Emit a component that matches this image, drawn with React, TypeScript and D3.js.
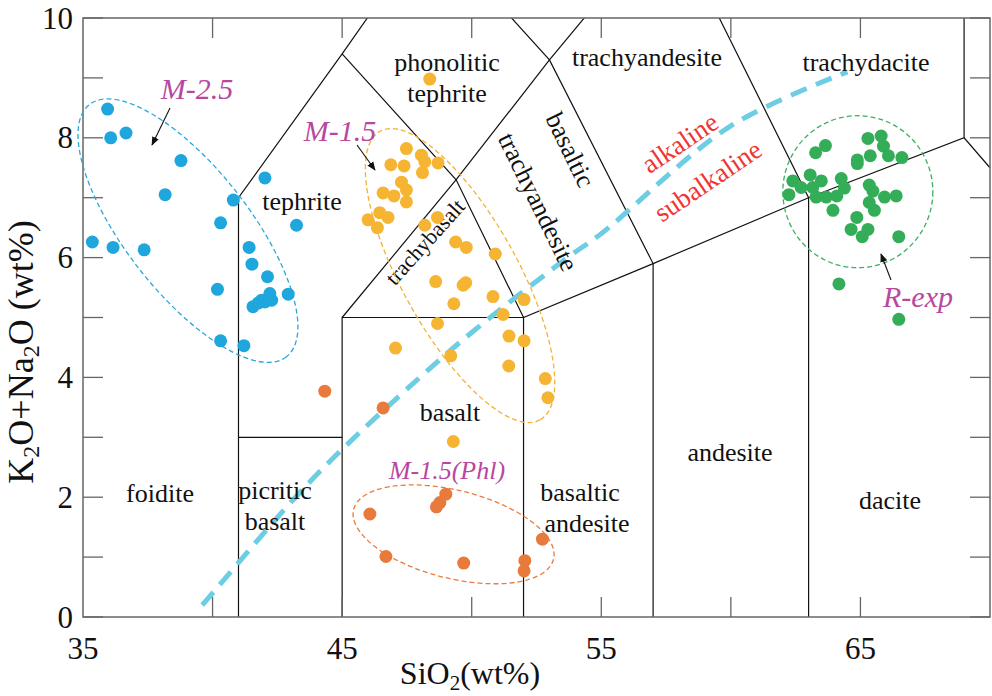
import React, { useEffect, useRef } from 'react';
import * as d3 from 'd3';

// sample groups, [SiO2, K2O+Na2O]
const m25: [number, number][] = [
  [35.95, 8.48], [36.07, 8.0], [36.66, 8.08], [38.78, 7.62], [42.02, 7.33],
  [38.17, 7.05], [40.8, 6.96], [40.31, 6.58], [43.24, 6.54], [35.36, 6.26],
  [36.16, 6.17], [37.36, 6.13], [41.41, 6.17], [41.52, 5.89], [42.12, 5.68],
  [40.19, 5.47], [42.92, 5.39], [41.56, 5.18], [41.89, 5.29], [42.21, 5.4],
  [42.02, 5.26], [41.76, 5.24], [42.28, 5.29], [40.31, 4.61], [41.21, 4.53],
];

const m15: [number, number][] = [
  [47.48, 7.82], [48.06, 7.71], [48.19, 7.6], [48.7, 7.58], [46.88, 7.55],
  [47.39, 7.53], [48.1, 7.42], [47.29, 7.26], [47.48, 7.13], [46.58, 7.08],
  [47.0, 7.03], [47.48, 6.93], [46.45, 6.75], [46.77, 6.67], [46.0, 6.63],
  [46.36, 6.5], [48.19, 6.54], [48.68, 6.67], [49.38, 6.26], [49.79, 6.17],
  [50.91, 6.06], [48.61, 5.6], [49.77, 5.58], [49.67, 5.54], [50.82, 5.35],
  [52.02, 5.3], [49.31, 5.23], [51.21, 5.05], [48.68, 4.9], [51.44, 4.69],
  [52.02, 4.61], [47.06, 4.49], [49.19, 4.36], [51.43, 4.19], [52.84, 3.98],
  [52.94, 3.66], [48.38, 8.98], [49.29, 2.93],
];

const m15phl: [number, number][] = [
  [44.33, 3.77], [46.58, 3.49], [49.0, 2.05], [48.77, 1.91], [48.64, 1.84],
  [46.07, 1.72], [52.73, 1.3], [46.69, 1.01], [49.69, 0.9], [52.05, 0.94],
  [52.02, 0.77],
];

const rexp: [number, number][] = [
  [65.29, 7.99], [65.8, 8.03], [65.89, 7.86], [63.65, 7.87], [63.27, 7.75],
  [65.38, 7.7], [66.08, 7.7], [66.6, 7.67], [64.88, 7.63], [64.88, 7.57],
  [63.06, 7.38], [62.39, 7.28], [63.49, 7.28], [64.26, 7.32], [62.71, 7.17],
  [63.16, 7.17], [64.38, 7.16], [65.34, 7.21], [62.24, 7.05], [63.29, 7.01],
  [63.68, 7.01], [64.09, 7.03], [65.48, 7.11], [65.93, 7.01], [66.38, 7.03],
  [65.34, 6.92], [65.54, 6.79], [63.94, 6.79], [64.86, 6.67], [64.64, 6.47],
  [65.29, 6.47], [65.07, 6.35], [66.48, 6.35], [64.17, 5.56], [66.48, 4.97],
];

// TAS field boundaries
const fieldLines: [number, number][][] = [
  [[41, 0], [41, 7], [45, 9.4], [48.4, 11.5]],
  [[41, 3], [45, 3]],
  [[45, 0], [45, 5], [52, 5], [52, 0]],
  [[45, 5], [49.4, 7.3], [53, 9.3], [57.6, 11.7]],
  [[45, 9.4], [49.4, 7.3], [52, 5], [57, 5.9], [63, 7], [69, 8], [70, 7.5]],
  [[48.4, 11.5], [53, 9.3], [57, 5.9], [57, 0]],
  [[52.5, 14], [57.6, 11.7], [63, 7], [63, 0]],
  [[69, 8], [69, 12]],
];

// alkaline / subalkaline divide
const divide: [number, number][] = [
  [39.6, 0.2], [40, 0.4], [43.2, 2], [45, 2.8], [48, 4], [50, 4.75],
  [53.7, 6], [55, 6.4], [60, 8.2], [64.5, 9.1],
];

const xTickLabels = [35, 45, 55, 65];
const yTickLabels = [0, 2, 4, 6, 8, 10];

const groups = [
  { data: m25, color: '#1fa7dd' },
  { data: m15, color: '#f6b433' },
  { data: m15phl, color: '#e87a3c' },
  { data: rexp, color: '#34ad58' },
];

const App = () => {
  const ref = useRef<SVGSVGElement>(null);

  useEffect(() => {
    const svg = d3.select(ref.current);
    svg.selectAll('*').remove();

    const x = d3.scaleLinear().domain([35, 70]).range([83, 990]);
    const y = d3.scaleLinear().domain([0, 10]).range([617, 18]);

    svg.append('defs').append('clipPath').attr('id', 'plot')
      .append('rect')
      .attr('x', x(35)).attr('y', y(10))
      .attr('width', x(70) - x(35)).attr('height', y(0) - y(10));

    const plot = svg.append('g').attr('clip-path', 'url(#plot)');

    // ticks inside the frame
    const tickG = svg.append('g').attr('stroke', '#666').attr('stroke-width', 1.3);
    d3.range(0, 11).forEach(v => {
      tickG.append('line').attr('x1', x(35)).attr('x2', x(35) + 20).attr('y1', y(v)).attr('y2', y(v));
      tickG.append('line').attr('x1', x(70)).attr('x2', x(70) - 20).attr('y1', y(v)).attr('y2', y(v));
    });
    d3.range(40, 70, 5).forEach(v => {
      tickG.append('line').attr('x1', x(v)).attr('x2', x(v)).attr('y1', y(0)).attr('y2', y(0) - 20);
      tickG.append('line').attr('x1', x(v)).attr('x2', x(v)).attr('y1', y(10)).attr('y2', y(10) + 20);
    });

    const line = d3.line<[number, number]>().x(d => x(d[0])).y(d => y(d[1]));
    plot.selectAll('path.field')
      .data(fieldLines)
      .join('path')
      .attr('class', 'field')
      .attr('d', d => line(d))
      .attr('fill', 'none')
      .attr('stroke', '#111')
      .attr('stroke-width', 1.2);

    plot.append('path')
      .attr('d', d3.line<[number, number]>().x(d => x(d[0])).y(d => y(d[1])).curve(d3.curveCatmullRom)(divide))
      .attr('fill', 'none')
      .attr('stroke', '#6dcde3')
      .attr('stroke-width', 5)
      .attr('stroke-dasharray', '17,10');

    // frame
    svg.append('rect')
      .attr('x', x(35)).attr('y', y(10))
      .attr('width', x(70) - x(35)).attr('height', y(0) - y(10))
      .attr('fill', 'none').attr('stroke', '#666').attr('stroke-width', 1.5);

    // everything written below inherits the serif face from this group
    const txt = svg.append('g');

    // field names
    const fields = [
      { t: 'foidite', p: [160, 493], r: 0 },
      { t: 'picritic', p: [275, 490], r: 0 },
      { t: 'basalt', p: [275, 521], r: 0 },
      { t: 'tephrite', p: [302, 201], r: 0 },
      { t: 'phonolitic', p: [447, 62], r: 0 },
      { t: 'tephrite', p: [447, 93], r: 0 },
      { t: 'trachyandesite', p: [647, 57], r: 0 },
      { t: 'trachydacite', p: [866, 62], r: 0 },
      { t: 'basalt', p: [450, 412], r: 0 },
      { t: 'basaltic', p: [580, 492], r: 0 },
      { t: 'andesite', p: [587, 523], r: 0 },
      { t: 'andesite', p: [730, 452], r: 0 },
      { t: 'dacite', p: [890, 500], r: 0 },
      { t: 'basaltic', p: [570, 150], r: 64 },
      { t: 'trachyandesite', p: [538, 202], r: 64 },
    ];
    txt.append('g').selectAll('text')
      .data(fields)
      .join('text')
      .attr('transform', d => `translate(${d.p[0]},${d.p[1]}) rotate(${d.r})`)
      .attr('text-anchor', 'middle')
      .attr('dominant-baseline', 'central')
      .attr('font-size', 26)
      .attr('fill', '#111')
      .text(d => d.t);

    txt.append('text')
      .attr('transform', 'translate(425,242) rotate(-48)')
      .attr('text-anchor', 'middle').attr('dominant-baseline', 'central')
      .attr('font-size', 22).attr('fill', '#111')
      .text('trachybasalt');

    [{ t: 'alkaline', p: [680, 143] }, { t: 'subalkaline', p: [708, 181] }].forEach(d => {
      txt.append('text')
        .attr('transform', `translate(${d.p[0]},${d.p[1]}) rotate(-34)`)
        .attr('text-anchor', 'middle').attr('dominant-baseline', 'central')
        .attr('font-size', 27).attr('fill', '#f03535')
        .text(d.t);
    });

    // group outlines
    const rings = [
      { c: [39.05, 6.45], rx: 160, ry: 62, a: 52, color: '#2aa8d8' },
      { c: [49.55, 5.7], rx: 165, ry: 58, a: 61, color: '#f3b235' },
      { c: [49.3, 1.38], rx: 103, ry: 44, a: 14, color: '#ea7b3e' },
      { c: [64.9, 7.1], rx: 75, ry: 76, a: 0, color: '#3cb060' },
    ];
    svg.append('g').selectAll('ellipse')
      .data(rings)
      .join('ellipse')
      .attr('transform', d => `translate(${x(d.c[0])},${y(d.c[1])}) rotate(${d.a})`)
      .attr('rx', d => d.rx).attr('ry', d => d.ry)
      .attr('fill', 'none')
      .attr('stroke', d => d.color)
      .attr('stroke-width', 1.3)
      .attr('stroke-dasharray', '5,3');

    groups.forEach(g => {
      svg.append('g').selectAll('circle')
        .data(g.data)
        .join('circle')
        .attr('cx', d => x(d[0]))
        .attr('cy', d => y(d[1]))
        .attr('r', 6.5)
        .attr('fill', g.color);
    });

    // group names and arrows
    const magenta = '#b8489f';
    const names = [
      { t: 'M-2.5', p: [197, 88], s: 30 },
      { t: 'M-1.5', p: [340, 130], s: 30 },
      { t: 'M-1.5(Phl)', p: [447, 470], s: 26 },
      { t: 'R-exp', p: [918, 296], s: 30 },
    ];
    svg.append('g')
      .style('font-family', 'Liberation Serif, Tinos, Times New Roman, Times, Noto Serif, DejaVu Serif, serif')
      .selectAll('text')
      .data(names)
      .join('text')
      .attr('x', d => d.p[0]).attr('y', d => d.p[1])
      .attr('text-anchor', 'middle').attr('dominant-baseline', 'central')
      .attr('font-style', 'italic')
      .attr('font-size', d => d.s).attr('fill', magenta)
      .text(d => d.t);

    const marker = svg.select('defs').append('marker')
      .attr('id', 'arrow').attr('viewBox', '0 0 10 10')
      .attr('refX', 9).attr('refY', 5)
      .attr('markerWidth', 9).attr('markerHeight', 9)
      .attr('markerUnits', 'userSpaceOnUse')
      .attr('orient', 'auto');
    marker.append('path').attr('d', 'M0,1L10,5L0,9Z').attr('fill', '#111');

    const arrows = [
      [170, 108, 152, 145],
      [357, 145, 375, 170],
      [891, 280, 881, 254],
    ];
    svg.append('g').selectAll('line')
      .data(arrows)
      .join('line')
      .attr('x1', d => d[0]).attr('y1', d => d[1])
      .attr('x2', d => d[2]).attr('y2', d => d[3])
      .attr('stroke', '#111').attr('stroke-width', 1.1)
      .attr('marker-end', 'url(#arrow)');

    // tick labels
    txt.append('g').selectAll('text')
      .data(yTickLabels)
      .join('text')
      .attr('x', 73).attr('y', d => y(d))
      .attr('text-anchor', 'end').attr('dominant-baseline', 'central')
      .attr('font-size', 31).attr('fill', '#111')
      .text(d => d);

    txt.append('g').selectAll('text')
      .data(xTickLabels)
      .join('text')
      .attr('x', d => x(d)).attr('y', 648)
      .attr('text-anchor', 'middle').attr('dominant-baseline', 'central')
      .attr('font-size', 31).attr('fill', '#111')
      .text(d => d);

    // axis titles
    const xt = txt.append('text')
      .attr('x', 470).attr('y', 684)
      .attr('text-anchor', 'middle')
      .attr('font-size', 32).attr('fill', '#111');
    xt.append('tspan').text('SiO');
    xt.append('tspan').attr('font-size', 21).attr('dy', 6).text('2');
    xt.append('tspan').attr('dy', -6).text('(wt%)');

    const yt = txt.append('text')
      .attr('transform', 'translate(33,352) rotate(-90)')
      .attr('text-anchor', 'middle')
      .attr('font-size', 36).attr('fill', '#111');
    yt.append('tspan').text('K');
    yt.append('tspan').attr('font-size', 24).attr('dy', 6).text('2');
    yt.append('tspan').attr('dy', -6).text('O+Na');
    yt.append('tspan').attr('font-size', 24).attr('dy', 6).text('2');
    yt.append('tspan').attr('dy', -6).text('O (wt%)');

    txt.style('font-family', 'Liberation Serif, Tinos, Times New Roman, Times, Noto Serif, DejaVu Serif, serif');
  }, []);

  return (
    <svg
      ref={ref}
      width="992"
      height="696"
      style={{ position: 'absolute', left: 0, top: 0, background: '#fff' }}
    ></svg>
  );
};

export default App;
